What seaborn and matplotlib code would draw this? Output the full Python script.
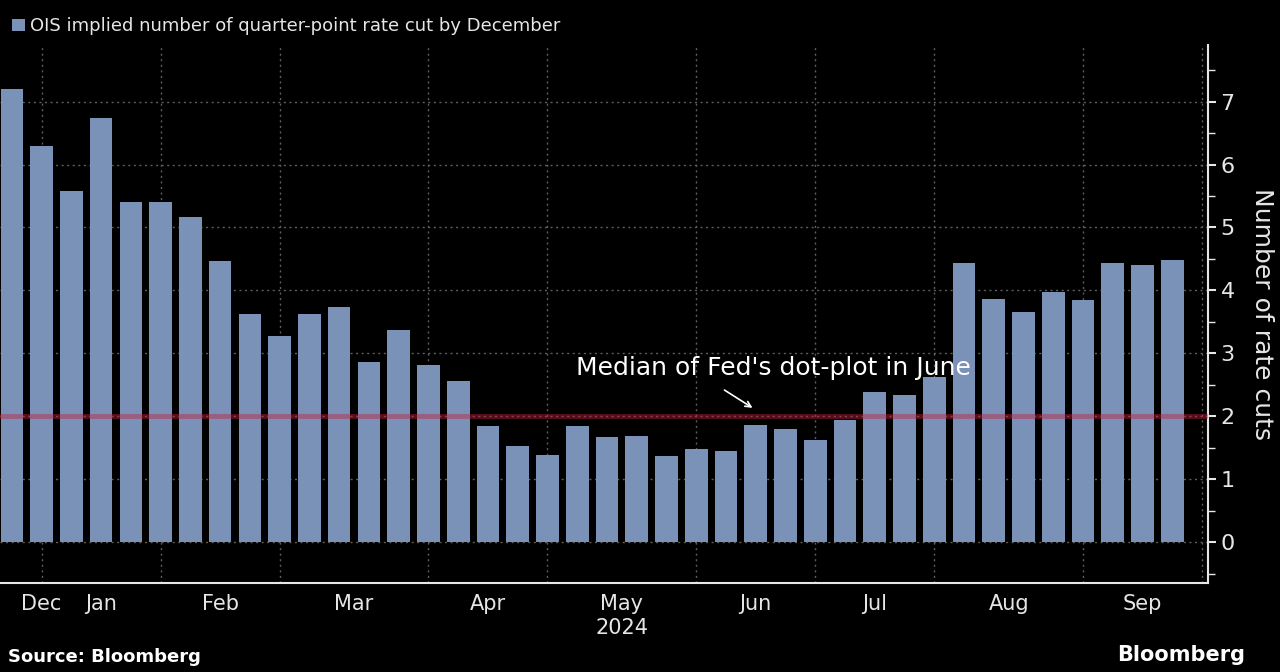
import matplotlib
matplotlib.use("Agg")
import matplotlib.pyplot as plt
import matplotlib.transforms as mtransforms
import seaborn as sns
import pandas as pd

# weekly OIS-implied cuts
cuts = [7.2, 6.3, 5.58, 6.74, 5.41, 5.4, 5.17, 4.46, 3.62, 3.27,
        3.63, 3.74, 2.86, 3.37, 2.81, 2.56, 1.84, 1.52, 1.38, 1.84,
        1.67, 1.69, 1.37, 1.48, 1.44, 1.86, 1.79, 1.62, 1.94, 2.38,
        2.33, 2.63, 4.44, 3.86, 3.65, 3.98, 3.84, 4.44, 4.40, 4.48]
weeks = list(range(len(cuts)))

# first week of each month (grid lines) and month label positions
month_starts = [1, 5, 9, 14, 18, 23, 27, 31, 36, 40]
month_names = ["Dec", "Jan", "Feb", "Mar", "Apr", "May", "Jun", "Jul", "Aug", "Sep"]
month_centers = [0.97, 3, 7, 11.5, 16, 20.5, 25, 29, 33.5, 38]
fed_median = 2

df = pd.DataFrame({"week": weeks, "cuts": cuts})

sns.set_style("dark")
plt.rcParams['font.family'] = ['DejaVu Sans']
bg = "black"
fg = "#e6e6e6"
bar_color = "#7a92b7"

fig = plt.figure(figsize=(12.8, 6.72), dpi=100, facecolor=bg)
ax = fig.add_axes([0, 89/672, 1208/1280, 538/672])
ax.set_facecolor(bg)

sns.barplot(data=df, x="week", y="cuts", color=bar_color, width=0.76,
            saturation=1, native_scale=True, ax=ax, linewidth=0, edgecolor="none",
            label="OIS implied number of quarter-point rate cut by December")
if ax.get_legend() is not None:
    ax.get_legend().remove()

ax.set_xlim(-0.4, 40.2)
ax.set_ylim(-0.65, 7.9)

# grid
ax.set_yticks(range(0, 8))
ax.set_yticks([v + 0.5 for v in range(-1, 8)], minor=True)
ax.set_xticks(month_starts)
ax.set_xticklabels([])
ax.set_xticks(month_centers, minor=True)
ax.set_xticklabels(month_names, minor=True)
ax.grid(True, which="major", color="#5e5e5e", linestyle=(0, (1.5, 2.5)), linewidth=1)
ax.set_axisbelow(True)

# Fed dot plot median
ax.axhline(fed_median, color="#c21f3c", alpha=0.45, linewidth=3.5, zorder=3)
ax.annotate("", xy=(24.97, 2.11), xytext=(23.87, 2.44),
            arrowprops=dict(arrowstyle="->", color="white", lw=1.2))
ax.text(18.95, 2.76, "Median of Fed's dot-plot in June", color="white", fontsize=18,
        ha="left", va="center")

# axes styling
for s in ["left", "top"]:
    ax.spines[s].set_visible(False)
ax.spines["right"].set_color(fg)
ax.spines["right"].set_linewidth(1.5)
ax.spines["bottom"].set_color(fg)
ax.spines["bottom"].set_linewidth(1.5)
ax.yaxis.tick_right()
ax.yaxis.set_label_position("right")
ax.tick_params(axis="y", which="major", colors=fg, labelsize=16, length=6, width=1.5,
               direction="out", pad=3)
ax.tick_params(axis="y", which="minor", colors=fg, length=5, width=1)
ax.tick_params(axis="x", which="major", colors=fg, length=5, width=1, direction="out")
ax.tick_params(axis="x", which="minor", colors=fg, length=0, labelsize=15, pad=8)
ax.set_xlabel("")
ax.set_ylabel("Number of rate cuts", color=fg, fontsize=18, rotation=270, labelpad=28)

# long tick marking the year change
ax.xaxis.get_major_ticks()[0].tick1line.set_markersize(57)

trans = mtransforms.blended_transform_factory(ax.transData, ax.transAxes)
ax.text(20.5, -0.084, "2024", transform=trans, color=fg, fontsize=15, ha="center", va="center")

handles, labels = ax.get_legend_handles_labels()
fig.legend(handles[:1], labels[:1], loc="upper left", bbox_to_anchor=(0.004, 0.985),
           frameon=False, fontsize=13, handlelength=0.7, handleheight=0.7,
           handletextpad=0.3, borderaxespad=0, labelcolor=fg)

fig.text(8/1280, 15/672, "Source: Bloomberg", color="white", fontsize=13,
         fontweight="bold", ha="left", va="center")
fig.text(1245/1280, 17/672, "Bloomberg", color="white", fontsize=15,
         fontweight="bold", ha="right", va="center")

fig.savefig("out.png", dpi=100, facecolor=bg)
